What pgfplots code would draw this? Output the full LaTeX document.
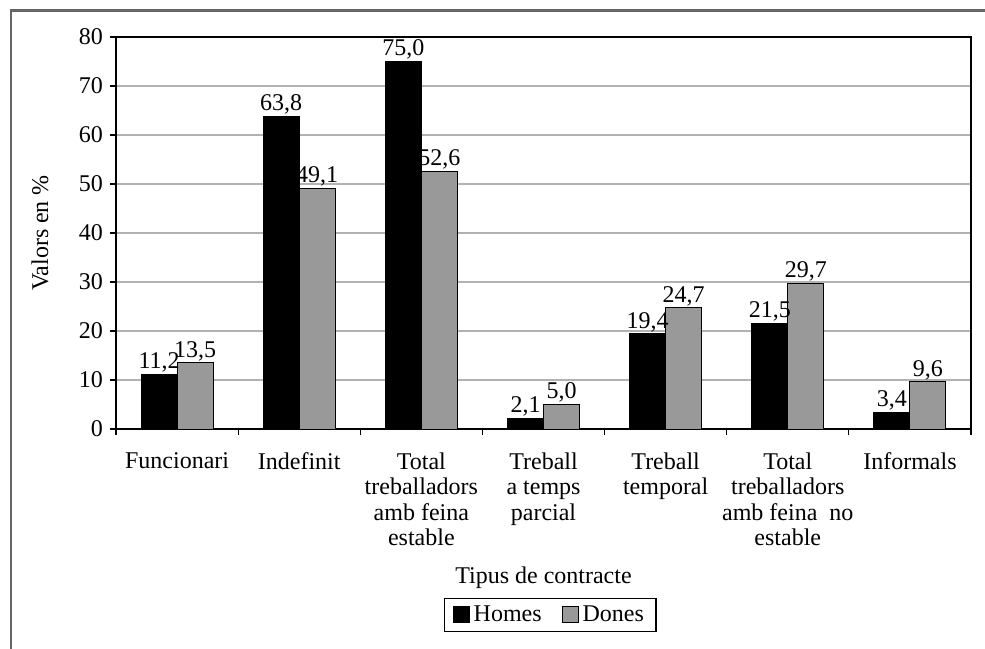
\documentclass[border=0pt]{standalone}
\usepackage{fontspec}
\setmainfont{Liberation Serif}
\usepackage{pgfplots}
\pgfplotsset{compat=1.18}
\definecolor{donesgray}{HTML}{999999}
\begin{document}
\begin{tikzpicture}[x=1bp,y=1bp,font=\fontsize{12bp}{13.3bp}\selectfont]
\useasboundingbox (0,0) rectangle (492.5,324);
\draw[line width=1.1bp, color=black!60] (5.5,-10) -- (5.5,318.75) -- (510,318.75);
\begin{axis}[
  at={(58bp,109.5bp)}, anchor=south west,
  scale only axis, width=427.5bp, height=196bp,
  ymin=0, ymax=80, ytick={0,10,...,80},
  xmin=-0.5, xmax=6.5,
  xtick={0,...,6},
  xticklabels={Funcionari, Indefinit, {Total\\treballadors\\amb feina\\estable}, {Treball\\a temps\\parcial}, {Treball\\temporal}, {Total\\treballadors\\amb feina~~no\\estable}, Informals},
  xticklabel style={align=center, yshift=-5.5bp, font=\fontsize{12bp}{12.6bp}\selectfont},
  yticklabel style={font=\fontsize{12bp}{13.3bp}\selectfont},
  major x tick style={draw=none},
  minor xtick={-0.5,0.5,...,6.5},
  minor tick length=3bp,
  major tick length=3bp,
  tick align=outside,
  xtick pos=bottom, ytick pos=left,
  tick style={black, line width=0.6bp},
  ymajorgrids, grid style={black!30, line width=0.6bp},
  axis line style={black, line width=0.8bp},
  ybar=0pt, bar width=18bp,
  /pgf/number format/assume math mode=true,
  nodes near coords,
  nodes near coords style={font=\fontsize{12bp}{13.3bp}\selectfont, inner sep=0.8bp, /pgf/number format/.cd, fixed, fixed zerofill, precision=1, use comma},
  xlabel={Tipus de contracte},
  xlabel style={at={(axis description cs:0.5,-0.393)}, anchor=base, font=\fontsize{12bp}{13.3bp}\selectfont},
  ylabel={Valors en \%},
  ylabel style={at={(axis description cs:-0.089,0.5)}, anchor=center, font=\fontsize{12bp}{13.3bp}\selectfont},
  legend columns=2,
  legend style={at={(axis description cs:0.508,-0.474)}, anchor=center, draw=black, line width=0.6bp, font=\fontsize{12bp}{13.3bp}\selectfont, inner xsep=4bp, inner ysep=1.5bp, /tikz/every even column/.append style={column sep=8bp}},
  legend image code/.code={\draw[#1, draw=black, line width=0.5bp] (0bp,-4bp) rectangle (8bp,4bp);},
]
\addplot[fill=black, draw=black, line width=0.5bp] coordinates {(0,11.2) (1,63.8) (2,75.0) (3,2.1) (4,19.4) (5,21.5) (6,3.4)};
\addplot[fill=donesgray, draw=black, line width=0.5bp] coordinates {(0,13.5) (1,49.1) (2,52.6) (3,5.0) (4,24.7) (5,29.7) (6,9.6)};
\legend{Homes, Dones}
\end{axis}
\end{tikzpicture}
\end{document}
